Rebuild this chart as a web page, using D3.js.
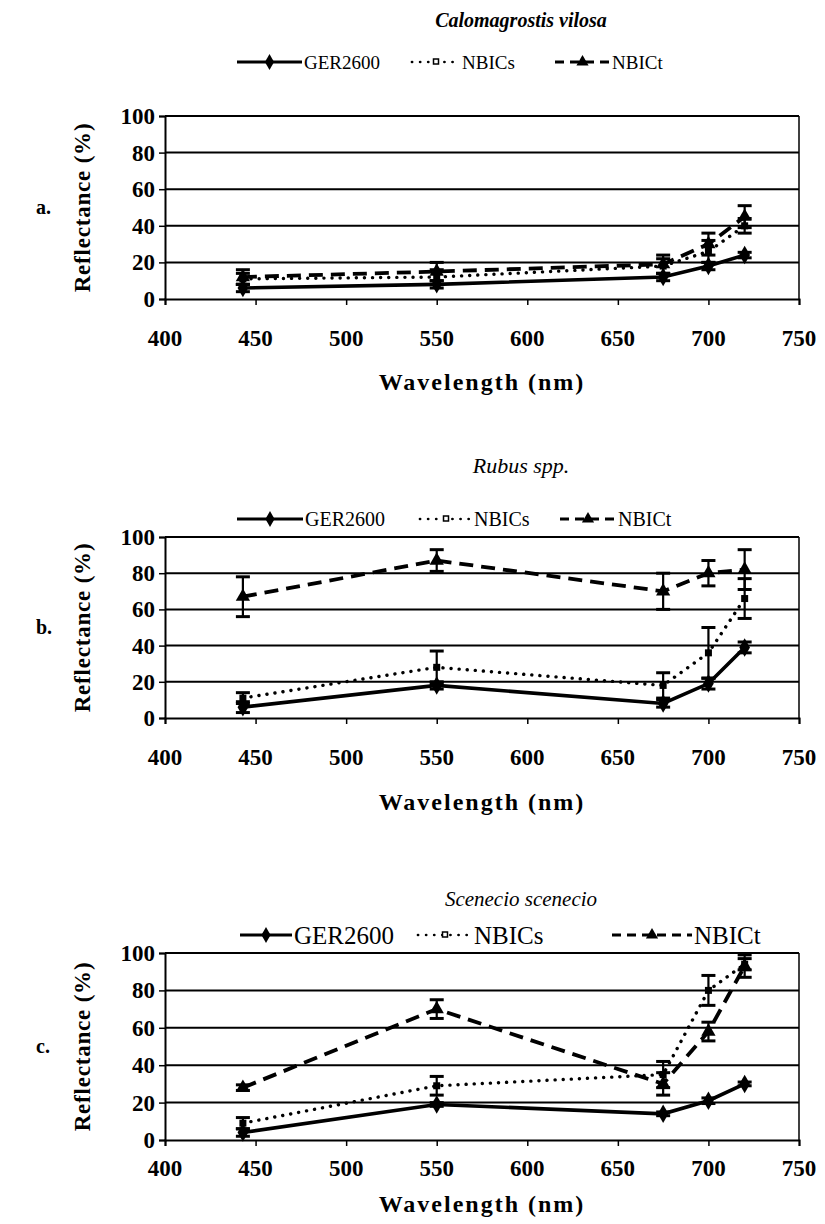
<!DOCTYPE html>
<html><head><meta charset="utf-8">
<script src="https://cdn.jsdelivr.net/npm/d3@7"></script>
<style>
body{margin:0;background:#fff;}
text{font-family:"Liberation Serif","Times New Roman",serif;fill:#000;}
</style></head>
<body><svg id="chart" width="825" height="1224"></svg>
<script>
// ---- data ----
const wavelengths = [443, 550, 675, 700, 720];
const xTicks = [400, 450, 500, 550, 600, 650, 700, 750];
const yTicks = [0, 20, 40, 60, 80, 100];
const seriesNames = ["GER2600", "NBICs", "NBICt"];
const panelTitles = ["Calomagrostis vilosa", "Rubus spp.", "Scenecio scenecio"];
const panelLetters = ["a.", "b.", "c."];

const gerA = [6, 8, 12, 18, 24];
const gerAErr = [2, 2, 2, 2, 1.5];
const nbicsA = [11, 12, 18, 26, 40];
const nbicsAErr = [3, 4, 4, 6, 4];
const nbictA = [12, 15, 19, 30, 45];
const nbictAErr = [4, 5, 5, 6, 6];

const gerB = [6, 18, 8, 19, 39];
const gerBErr = [3, 2, 2, 3, 3];
const nbicsB = [11, 28, 18, 36, 66];
const nbicsBErr = [3, 9, 7, 14, 11];
const nbictB = [67, 87, 70, 80, 82];
const nbictBErr = [11, 6, 10, 7, 11];

const gerC = [4, 19, 14, 21, 30];
const gerCErr = [2, 1, 1, 1.5, 1];
const nbicsC = [9, 29, 35, 80, 94];
const nbicsCErr = [3, 5, 7, 8, 3];
const nbictC = [28, 70, 30, 58, 93];
const nbictCErr = [1.5, 5, 6, 5, 6];

// ---- layout ----
const panels = [
  {title: panelTitles[0], titleBold: true, titleSize: 20, titleY: 27, legendY: 62, legendFont: 19,
   legendX: [237, 412, 555], legendW: [65, 48, 55],
   top: 116, bottom: 299, xTickY: 346, xTitleY: 390,
   series: [[gerA, gerAErr], [nbicsA, nbicsAErr], [nbictA, nbictAErr]]},
  {title: panelTitles[1], titleBold: false, titleSize: 22, titleY: 473, legendY: 519, legendFont: 20,
   legendX: [237, 420, 560], legendW: [66, 52, 56],
   top: 537, bottom: 718, xTickY: 765, xTitleY: 810,
   series: [[gerB, gerBErr], [nbicsB, nbicsBErr], [nbictB, nbictBErr]]},
  {title: panelTitles[2], titleBold: false, titleSize: 21, titleY: 906, legendY: 935, legendFont: 25,
   legendX: [240, 418, 612], legendW: [52, 54, 80],
   top: 953, bottom: 1140, xTickY: 1176, xTitleY: 1212,
   series: [[gerC, gerCErr], [nbicsC, nbicsCErr], [nbictC, nbictCErr]]}
];

const svg = d3.select("#chart");
const x = d3.scaleLinear().domain([400, 750]).range([165, 799]);
const styles = [
  {dash: null, width: 3.6, cap: "butt", marker: "diamond"},
  {dash: "0.1,8", width: 3.4, cap: "round", marker: "square"},
  {dash: "14,8", width: 3.8, cap: "butt", marker: "triangle"}
];

function marker(g, type, cx, cy, s, legend) {
  if (type === "diamond") {
    g.append("path").attr("d", d3.symbol(d3.symbolDiamond, s * 9)())
      .attr("transform", `translate(${cx},${cy})`).attr("fill", "#000");
  } else if (type === "square") {
    if (legend) {
      g.append("rect").attr("x", cx - 2.5).attr("y", cy - 3).attr("width", 5).attr("height", 5)
        .attr("fill", "#fff").attr("stroke", "#000").attr("stroke-width", 1.5);
    } else {
      g.append("rect").attr("x", cx - 3.5).attr("y", cy - 3.5).attr("width", 7).attr("height", 7)
        .attr("fill", "#000");
    }
  } else {
    g.append("path").attr("d", d3.symbol(d3.symbolTriangle, s * 8)())
      .attr("transform", `translate(${cx},${cy})`).attr("fill", "#000");
  }
}

panels.forEach((p, pi) => {
  const y = d3.scaleLinear().domain([0, 100]).range([p.bottom, p.top]);
  const g = svg.append("g");

  // title
  g.append("text").attr("x", 521).attr("y", p.titleY).attr("text-anchor", "middle")
    .attr("font-size", p.titleSize).attr("font-style", "italic")
    .attr("font-weight", p.titleBold ? "bold" : "normal").text(p.title);

  // legend
  seriesNames.forEach((name, si) => {
    const lx = p.legendX[si], lw = p.legendW[si], ly = p.legendY;
    const lg = g.append("g");
    lg.append("line").attr("x1", lx).attr("x2", lx + lw).attr("y1", ly).attr("y2", ly)
      .attr("stroke", "#000").attr("stroke-width", styles[si].width * 0.8)
      .attr("stroke-linecap", styles[si].cap)
      .attr("stroke-dasharray", si === 2 ? "9,6" : styles[si].dash);
    marker(lg, styles[si].marker, lx + lw / 2, ly, 8, true);
    lg.append("text").attr("x", lx + lw + 2).attr("y", ly).attr("dy", "0.35em")
      .attr("font-size", p.legendFont).text(name);
  });

  // gridlines
  g.append("g").selectAll("line").data(yTicks.filter(d => d > 0)).join("line")
    .attr("x1", x(400)).attr("x2", x(750)).attr("y1", d => y(d)).attr("y2", d => y(d))
    .attr("stroke", "#000").attr("stroke-width", 2);
  // right border
  g.append("line").attr("x1", x(750)).attr("x2", x(750)).attr("y1", y(100)).attr("y2", y(0))
    .attr("stroke", "#000").attr("stroke-width", 1.5);

  // axes
  const xa = g.append("g").attr("transform", `translate(0,${p.bottom})`)
    .call(d3.axisBottom(x).tickValues(xTicks).tickSize(6).tickFormat(""));
  xa.select(".domain").attr("stroke-width", 2);
  xa.selectAll(".tick line").attr("stroke-width", 1.5);
  g.append("g").selectAll("text").data(xTicks).join("text")
    .attr("x", d => x(d)).attr("y", p.xTickY).attr("text-anchor", "middle")
    .attr("font-size", 23).attr("font-weight", "bold").text(d => d);

  const ya = g.append("g").attr("transform", `translate(${x(400)},0)`)
    .call(d3.axisLeft(y).tickValues(yTicks).tickSize(6).tickFormat(""));
  ya.select(".domain").attr("stroke-width", 2);
  ya.selectAll(".tick line").attr("stroke-width", 1.5);
  g.append("g").selectAll("text").data(yTicks).join("text")
    .attr("x", x(400) - 10).attr("y", d => y(d)).attr("dy", "0.35em").attr("text-anchor", "end")
    .attr("font-size", 23).attr("font-weight", "bold").text(d => d);

  // axis titles
  g.append("text").attr("x", (x(400) + x(750)) / 2).attr("y", p.xTitleY).attr("text-anchor", "middle")
    .attr("font-size", 24).attr("font-weight", "bold").attr("letter-spacing", 2)
    .text("Wavelength (nm)");
  const cy = (p.top + p.bottom) / 2;
  g.append("text").attr("transform", `translate(82,${cy}) rotate(-90)`).attr("text-anchor", "middle")
    .attr("dy", "0.35em").attr("font-size", 23).attr("font-weight", "bold").attr("letter-spacing", 0.8)
    .text("Reflectance (%)");
  g.append("text").attr("x", 36).attr("y", cy + 6).attr("font-size", 20).attr("font-weight", "bold")
    .text(panelLetters[pi]);

  // series
  const order = [2, 1, 0];
  order.forEach(si => {
    const vals = p.series[si][0], errs = p.series[si][1];
    const pts = wavelengths.map((w, i) => ({w, v: vals[i], e: errs[i]}));
    const sg = g.append("g");
    sg.append("path").datum(pts)
      .attr("d", d3.line().x(d => x(d.w)).y(d => y(d.v)))
      .attr("fill", "none").attr("stroke", "#000").attr("stroke-width", styles[si].width)
      .attr("stroke-linecap", styles[si].cap)
      .attr("stroke-dasharray", styles[si].dash);
    // error bars
    pts.forEach(d => {
      sg.append("line").attr("x1", x(d.w)).attr("x2", x(d.w)).attr("y1", y(d.v - d.e)).attr("y2", y(d.v + d.e))
        .attr("stroke", "#000").attr("stroke-width", 2.2);
      [d.v - d.e, d.v + d.e].forEach(ev => {
        sg.append("line").attr("x1", x(d.w) - 7).attr("x2", x(d.w) + 7).attr("y1", y(ev)).attr("y2", y(ev))
          .attr("stroke", "#000").attr("stroke-width", 3);
      });
      marker(sg, styles[si].marker, x(d.w), y(d.v), 11, false);
    });
  });
});
</script></body></html>
